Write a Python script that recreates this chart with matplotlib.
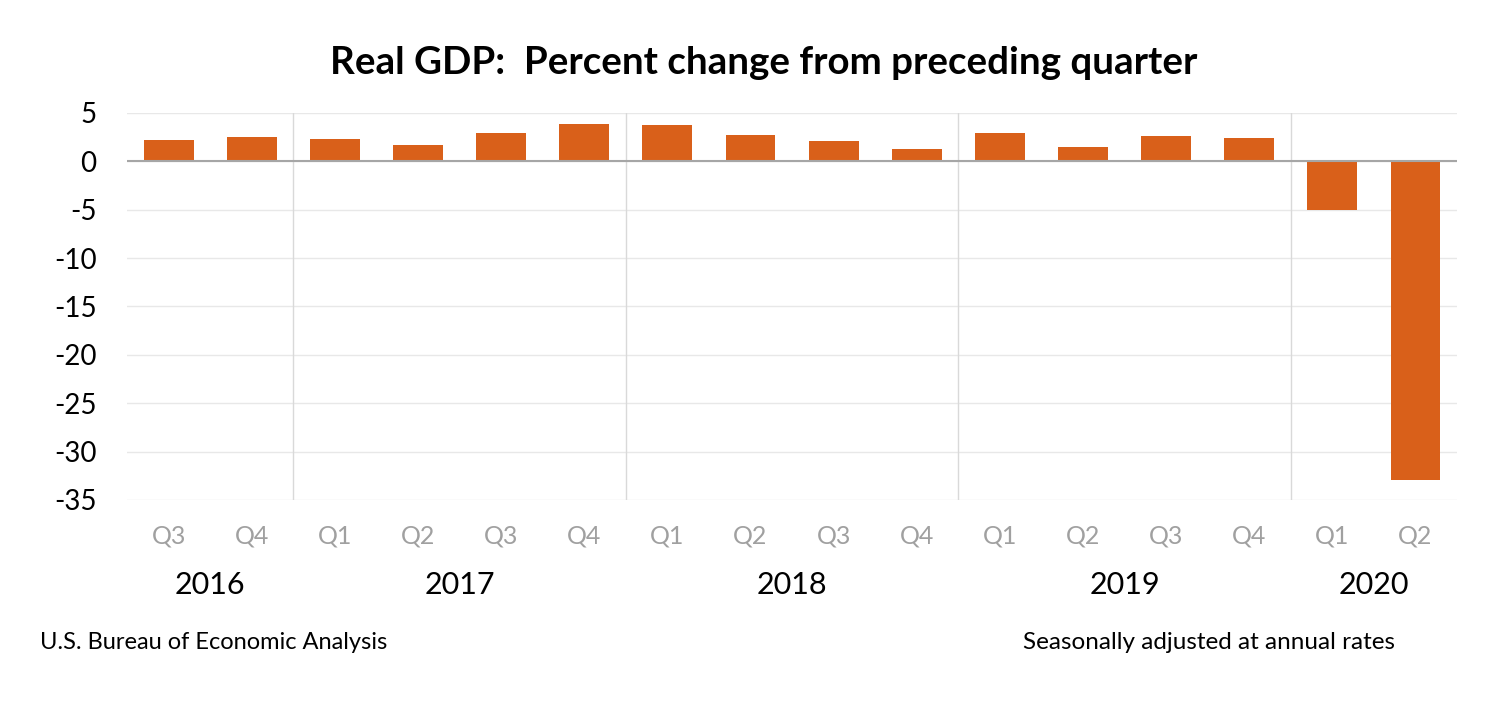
import matplotlib
matplotlib.use("Agg")
from matplotlib import pyplot as plt
import numpy as np

# Real GDP, percent change from preceding quarter (SAAR)
quarters = ["Q3", "Q4", "Q1", "Q2", "Q3", "Q4", "Q1", "Q2",
            "Q3", "Q4", "Q1", "Q2", "Q3", "Q4", "Q1", "Q2"]
gdp_change = [2.2, 2.5, 2.3, 1.7, 2.9, 3.9, 3.8, 2.7,
              2.1, 1.3, 2.9, 1.5, 2.6, 2.4, -5.0, -32.9]
years = ["2016", "2017", "2018", "2019", "2020"]
quarters_per_year = [2, 4, 4, 4, 2]
y_ticks = [5, 0, -5, -10, -15, -20, -25, -30, -35]

FONT = "Lato"
BAR_COLOR = "#D9601A"

fig = plt.figure(figsize=(14.86, 7.12), dpi=100)
ax = fig.add_axes([0.0855, 0.2978, 0.895, 0.5435])

x = np.arange(len(gdp_change))
ax.bar(x, gdp_change, width=0.6, color=BAR_COLOR, zorder=3)

ax.set_xlim(-0.5, len(gdp_change) - 0.5)
ax.set_ylim(-35, 5)

# light horizontal gridlines, darker zero line
for t in y_ticks:
    ax.axhline(t, color="#E8E8E8", linewidth=1, zorder=1)
ax.axhline(0, color="#A6A6A6", linewidth=1.5, zorder=4)

# year separators
edges = np.cumsum(quarters_per_year)[:-1] - 0.5
for e in edges:
    ax.axvline(e, color="#D9D9D9", linewidth=1, zorder=1)

for s in ax.spines.values():
    s.set_visible(False)

ax.set_yticks(y_ticks)
ax.set_yticklabels([str(t) for t in y_ticks], fontsize=20, family=FONT)
ax.tick_params(axis="y", length=0, pad=22)

ax.set_xticks(x)
ax.set_xticklabels(quarters, fontsize=18, family=FONT, color="#A0A0A0")
ax.tick_params(axis="x", length=0, pad=18)

# year labels under the quarter labels
starts = np.concatenate([[0], np.cumsum(quarters_per_year)[:-1]])
for yr, st, n in zip(years, starts, quarters_per_year):
    ax.text(st + (n - 1) / 2, -0.219, yr, transform=ax.get_xaxis_transform(),
            ha="center", va="center", fontsize=22, family=FONT, color="black")

fig.text(0.514, 0.911, "Real GDP:  Percent change from preceding quarter",
         ha="center", va="center", fontsize=27.7, fontweight="bold", family=FONT)
fig.text(0.027, 0.098, "U.S. Bureau of Economic Analysis",
         ha="left", va="center", fontsize=17, family=FONT)
fig.text(0.939, 0.098, "Seasonally adjusted at annual rates",
         ha="right", va="center", fontsize=17.5, family=FONT)

fig.savefig("out.png", dpi=100)
